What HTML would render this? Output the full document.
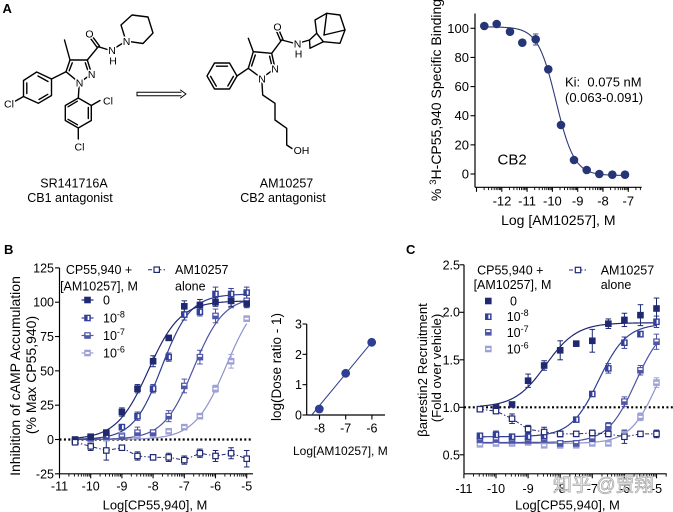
<!DOCTYPE html>
<html><head><meta charset="utf-8">
<style>
html,body{margin:0;padding:0;background:#fff;}
svg{display:block;font-family:"Liberation Sans",Arial,sans-serif;}
.at{font-size:10.5px;text-anchor:middle;fill:#000;paint-order:stroke;stroke:#fff;stroke-width:3px;stroke-linejoin:round;}
</style></head>
<body>
<svg id="s" width="673" height="512" viewBox="0 0 673 512" xmlns="http://www.w3.org/2000/svg">
<rect width="673" height="512" fill="#fff"/>

<!-- ============ PANEL A : structures ============ -->
<text x="2.5" y="13" font-size="13" font-weight="bold">A</text>
<g stroke="#000" stroke-width="1.4" fill="none" stroke-linecap="round" stroke-linejoin="round">
  <polygon points="70,60 87.3,60 91.7,74 79.3,82.7 66,71.7"/>
  <line x1="72.3" y1="62.8" x2="69.2" y2="70.8"/>
  <line x1="85.3" y1="62.8" x2="88.2" y2="71.5"/>
  <line x1="70" y1="60" x2="64.5" y2="40"/>
  <line x1="87.3" y1="60" x2="98.3" y2="46.7"/>
  <line x1="99.4" y1="45.9" x2="91.5" y2="35.2"/>
  <line x1="97.2" y1="47.5" x2="89.4" y2="36.8"/>
  <line x1="98.3" y1="46.7" x2="109" y2="50"/>
  <line x1="115" y1="48" x2="123" y2="43"/>
  <polygon points="126,41 121,25 132,15 148,17 153,33 143,43.5"/>
  <polygon points="36.7,72 51.5,79 51.5,95.5 38.3,103.3 23.5,96.5 23.5,80.5"/>
  <line x1="38" y1="76" x2="48" y2="81.5"/>
  <line x1="47.8" y1="94.3" x2="39" y2="99.5"/>
  <line x1="26.8" y1="93.5" x2="26.8" y2="83"/>
  <line x1="66" y1="71.7" x2="51.5" y2="79"/>
  <line x1="23.5" y1="96.5" x2="15.5" y2="101"/>
  <line x1="79.3" y1="82.7" x2="78.3" y2="98"/>
  <polygon points="78.3,98 91.3,105.5 91.3,120.5 78.3,128 65.3,120.5 65.3,105.5"/>
  <line x1="88.3" y1="107.5" x2="88.3" y2="118.5"/>
  <line x1="77.5" y1="124.8" x2="68" y2="119.3"/>
  <line x1="68" y1="106.8" x2="77.3" y2="101.2"/>
  <line x1="91.3" y1="105.5" x2="100" y2="100.5"/>
  <line x1="78.3" y1="128" x2="78.3" y2="139"/>
  <g stroke-width="1">
    <line x1="137" y1="92.3" x2="181" y2="92.3"/>
    <line x1="137" y1="95.7" x2="181" y2="95.7"/>
    <line x1="137" y1="92.3" x2="137" y2="95.7"/>
    <polyline points="180.5,90 186,94 180.5,98"/>
  </g>
  <polygon points="253.3,51.7 271.7,53.3 275,68.3 261.7,78.3 248.3,68.3"/>
  <line x1="255.3" y1="55" x2="251.6" y2="66"/>
  <line x1="269.6" y1="56.2" x2="272" y2="66.5"/>
  <line x1="253.3" y1="51.7" x2="248.3" y2="38.3"/>
  <line x1="271.7" y1="53.3" x2="281.7" y2="40"/>
  <line x1="283" y1="39.5" x2="278.6" y2="29.3"/>
  <line x1="280.5" y1="40.5" x2="276.1" y2="30.3"/>
  <line x1="281.7" y1="40" x2="293.3" y2="43"/>
  <polygon points="237,76 229.5,63 214.5,63 207,76 214.5,89 229.5,89"/>
  <line x1="227.5" y1="66.2" x2="216.5" y2="66.2"/>
  <line x1="210.6" y1="76.4" x2="216.3" y2="86.2"/>
  <line x1="227.8" y1="86" x2="233.4" y2="76.4"/>
  <line x1="248.3" y1="68.3" x2="237" y2="76"/>
  <polyline points="261.7,78.3 262.7,95 275,103.3 275,120 286.7,128.3 286.7,145 292,148.5"/>
  <line x1="302.5" y1="42" x2="309.5" y2="40"/>
  <polyline points="309.5,40 316.7,33.3 315,20 326.7,13.3 340,15 345,30 340,43.3 323.3,41.7 310,48.3 309.5,40"/>
  <line x1="316.7" y1="33.3" x2="323.3" y2="41.7"/>
  <line x1="326.7" y1="13.3" x2="324" y2="35"/>
  <line x1="324" y1="35" x2="345" y2="30"/>
</g>
<text class="at" x="91.7" y="78">N</text>
<text class="at" x="79.5" y="86.6">N</text>
<text class="at" x="89.5" y="37.5">O</text>
<text class="at" x="112" y="54">N</text>
<text class="at" x="113" y="64.5">H</text>
<text class="at" x="126.5" y="45">N</text>
<text class="at" x="9" y="107.5">Cl</text>
<text class="at" x="108" y="104.5">Cl</text>
<text class="at" x="79.5" y="150.5">Cl</text>
<text class="at" x="275" y="72.3">N</text>
<text class="at" x="262" y="82.3">N</text>
<text class="at" x="277.5" y="30.5">O</text>
<text class="at" x="297.5" y="47.5">N</text>
<text class="at" x="298.5" y="57.5">H</text>
<text class="at" x="301.5" y="154">OH</text>

<g font-size="12.5" text-anchor="middle">
<text x="74" y="187.5">SR141716A</text>
<text x="70" y="202">CB1 antagonist</text>
<text x="286.5" y="187.5">AM10257</text>
<text x="283" y="202">CB2 antagonist</text>
</g>

<!-- ============ PANEL A : binding curve text ============ -->
<text transform="translate(441,100) rotate(-90)" font-size="14" text-anchor="middle">% <tspan dy="-5" font-size="9.5">3</tspan><tspan dy="5">H-CP55,940 Specific Binding</tspan></text>
<g font-size="13" text-anchor="end">
<text x="469" y="32.8">100</text>
<text x="469" y="61.9">80</text>
<text x="469" y="91.1">60</text>
<text x="469" y="120.2">40</text>
<text x="469" y="149.4">20</text>
<text x="469" y="178.5">0</text>
</g>
<g font-size="13" text-anchor="middle">
<text x="502" y="205.5">-12</text>
<text x="527.1" y="205.5">-11</text>
<text x="552.4" y="205.5">-10</text>
<text x="577.7" y="205.5">-9</text>
<text x="603" y="205.5">-8</text>
<text x="628.3" y="205.5">-7</text>
</g>
<text x="558.3" y="225" font-size="14" text-anchor="middle">Log [AM10257], M</text>
<text x="565" y="86.3" font-size="13" xml:space="preserve">Ki:  0.075 nM</text>
<text x="565" y="101.8" font-size="13">(0.063-0.091)</text>
<text x="497.5" y="164.5" font-size="15">CB2</text>

<!-- ============ PANEL B text ============ -->
<text x="4" y="254" font-size="13" font-weight="bold">B</text>
<text transform="translate(20,376) rotate(-90)" font-size="14" text-anchor="middle">Inhibition of cAMP Accumulation</text>
<text transform="translate(36,375) rotate(-90)" font-size="14" text-anchor="middle">(% Max CP55,940)</text>
<g font-size="12.5" text-anchor="end">
<text x="54" y="272.4">125</text>
<text x="54" y="306.7">100</text>
<text x="54" y="341">75</text>
<text x="54" y="375.4">50</text>
<text x="54" y="409.7">25</text>
<text x="54" y="444">0</text>
<text x="54" y="478.3">-25</text>
</g>
<g font-size="12.5" text-anchor="middle">
<text x="59.5" y="490.5">-11</text>
<text x="90.7" y="490.5">-10</text>
<text x="121.9" y="490.5">-9</text>
<text x="153.1" y="490.5">-8</text>
<text x="184.3" y="490.5">-7</text>
<text x="215.5" y="490.5">-6</text>
<text x="246.7" y="490.5">-5</text>
</g>
<text x="155" y="509.5" font-size="13" text-anchor="middle">Log[CP55,940], M</text>
<g font-size="12.5">
<text x="99" y="274" text-anchor="middle">CP55,940 +</text>
<text x="99" y="290.5" text-anchor="middle">[AM10257], M</text>
<text x="175" y="274">AM10257</text>
<text x="175" y="290.5">alone</text>
<text x="103" y="304.5">0</text>
<text x="103" y="322.5">10<tspan dy="-5" font-size="9">-8</tspan></text>
<text x="103" y="340">10<tspan dy="-5" font-size="9">-7</tspan></text>
<text x="103" y="357.5">10<tspan dy="-5" font-size="9">-6</tspan></text>
</g>

<!-- inset -->
<text transform="translate(281,367) rotate(-90)" font-size="13.5" text-anchor="middle">log(Dose ratio - 1)</text>
<g font-size="12.5" text-anchor="end">
<text x="302" y="328.5">3</text>
<text x="302" y="358.8">2</text>
<text x="302" y="389.2">1</text>
<text x="302" y="419.5">0</text>
</g>
<g font-size="12.5" text-anchor="middle">
<text x="319.5" y="432.5">-8</text>
<text x="345.7" y="432.5">-7</text>
<text x="371.9" y="432.5">-6</text>
</g>
<text x="293" y="455" font-size="12">Log[AM10257], M</text>

<!-- ============ PANEL C text ============ -->
<text x="406" y="254" font-size="13" font-weight="bold">C</text>
<text transform="translate(427,370) rotate(-90)" font-size="13.2" text-anchor="middle">βarrestin2 Recruitment</text>
<text transform="translate(441,368) rotate(-90)" font-size="13.2" text-anchor="middle">(Fold over vehicle)</text>
<g font-size="12.5" text-anchor="end">
<text x="460" y="269.3">2.5</text>
<text x="460" y="316.3">2.0</text>
<text x="460" y="364.3">1.5</text>
<text x="460" y="411.8">1.0</text>
<text x="460" y="459.3">0.5</text>
</g>
<g font-size="12.5" text-anchor="middle">
<text x="463.9" y="492.8">-11</text>
<text x="496" y="492.8">-10</text>
<text x="528.1" y="492.8">-9</text>
<text x="560.2" y="492.8">-8</text>
<text x="592.3" y="492.8">-7</text>
<text x="624.4" y="492.8">-6</text>
<text x="656.5" y="492.8">-5</text>
</g>
<text x="567.5" y="509.5" font-size="13" text-anchor="middle">Log[CP55,940], M</text>
<g font-size="12.5">
<text x="510.3" y="274.5" text-anchor="middle">CP55,940 +</text>
<text x="512.5" y="288.8" text-anchor="middle">[AM10257], M</text>
<text x="600.7" y="274.5">AM10257</text>
<text x="600.7" y="288.8">alone</text>
<text x="510" y="305.5">0</text>
<text x="506.7" y="321.2">10<tspan dy="-5" font-size="9">-8</tspan></text>
<text x="506.7" y="336.8">10<tspan dy="-5" font-size="9">-7</tspan></text>
<text x="506.7" y="353.5">10<tspan dy="-5" font-size="9">-6</tspan></text>
</g>

<g id="dyn"></g>

<text x="553" y="491" font-size="19" fill="#f2f2f2" stroke="#9c9c9c" stroke-width="0.7" opacity="0.9" font-family="'Liberation Sans','Noto Sans CJK SC',sans-serif">知乎 @贾翔</text>
</svg>

<script>
(function(){
const NS='http://www.w3.org/2000/svg', G=document.getElementById('dyn');
function mk(t,a){const e=document.createElementNS(NS,t);for(const k in a)e.setAttribute(k,a[k]);G.appendChild(e);return e;}
function L(x1,y1,x2,y2,c,w,da){const a={x1:x1,y1:y1,x2:x2,y2:y2,stroke:c,'stroke-width':w||1.2};if(da)a['stroke-dasharray']=da;return mk('line',a);}
function hill(b,t,ec,h){return function(v){return b+(t-b)/(1+Math.pow(10,(ec-v)*h));};}
function curve(f,X,Y,v0,v1,c,w){let d='';for(let i=0;i<=150;i++){const v=v0+(v1-v0)*i/150;d+=(i?'L':'M')+X(v).toFixed(2)+' '+Y(f(v)).toFixed(2);}mk('path',{d:d,fill:'none',stroke:c,'stroke-width':w||1.2});}
function marker(x,y,type,c,s){s=s||6.6;const h=s/2;
  if(type==='o'){mk('rect',{x:x-h+0.6,y:y-h+0.6,width:s-1.2,height:s-1.2,fill:'#fff',stroke:c,'stroke-width':1.2});return;}
  mk('rect',{x:x-h,y:y-h,width:s,height:s,fill:c});
  if(type==='v')mk('rect',{x:x+0.1,y:y-h+1.3,width:1.7,height:s-2.6,fill:'#fff'});
  if(type==='h')mk('rect',{x:x-h+1.3,y:y-h+1.2,width:s-2.6,height:1.8,fill:'#fff'});
  if(type==='m')mk('rect',{x:x-h+1.3,y:y-0.9,width:s-2.6,height:1.8,fill:'#fff'});
}
function ebar(x,y1,y2,c){L(x,y1,x,y2,c,1);L(x-2.8,y1,x+2.8,y1,c,1);L(x-2.8,y2,x+2.8,y2,c,1);}
function logAxis(X,y,v0,v1){
  for(let d=Math.floor(v0)-1;d<=Math.ceil(v1);d++){
    if(d>=v0-1e-6&&d<=v1+1e-6)L(X(d),y,X(d),y+4.5,'#000',1.1);
    for(let k=2;k<=9;k++){const v=d+Math.log10(k);if(v>v0+0.02&&v<v1)L(X(v),y,X(v),y+2.8,'#000',0.9);}
  }
}
const C0='#1f2870',C8='#33419a',C7='#4f56a8',C6='#9da1d6',CA='#263575';

(function(){
  const X=v=>628.3+(v+7)*25.3, Y=v=>174-v*1.457;
  L(475,13.5,475,187.3,'#000',1.2);
  L(475,187.3,641.7,187.3,'#000',1.2);
  for(let v=0;v<=100;v+=20)L(470.5,Y(v),475,Y(v),'#000',1.1);
  logAxis(X,187.3,-13.06,-6.47);
  const vc=-7+(556-628.3)/25.3;
  curve(v=>-1+102/(1+Math.pow(10,1.2*(v-vc))),X,Y,-12.72,-7.1,'#2b3a78',1.1);
  const xs=[484.3,496.7,510,522.3,535.7,548.3,561,574,586.7,599.3,612.3,625];
  const ys=[26,24,31.7,42.7,39.3,69.3,125,160,170,174,174.7,174.7];
  ebar(535.7,34,45,'#4a5580');
  for(let i=0;i<xs.length;i++)mk('circle',{cx:xs[i],cy:ys[i],r:4.3,fill:CA});
})();

(function(){
  const X=v=>59.5+(v+11)*31.2, Y=v=>439.5-v*1.373;
  L(59.5,267.9,59.5,473.8,'#000',1.2);
  L(59.5,473.8,253,473.8,'#000',1.2);
  for(let v=-25;v<=125;v+=25)L(55,Y(v),59.5,Y(v),'#000',1.1);
  logAxis(X,473.8,-11,-4.8);
  L(59.5,439.5,253,439.5,'#000',2.2,'2 2.4');
  const vs=[];for(let v=-10.5;v<=-4.99;v+=0.5)vs.push(v);
  const S=[
    {d:[-2,0,1,3,3,4,6,9,17,37,57,88],e:[1,1,1,1,1,1,1,1.5,2,2.5,5,2],c:C6,t:'m',f:hill(0,108,-5.65,0.85),lc:'#8e93cc'},
    {d:[-1,1,2,2,5,5,17,39,60,90,101,101],e:[1,1,1,1,4,2,4,5,5,5,5,4],c:C7,t:'h',f:hill(0,104,-6.7,0.9),lc:'#4d53a3'},
    {d:[-1,2,3,9,17,37,60,91,93,106,106,107],e:[1,2,2,2,3,3,3,4,3,5,4,4],c:C8,t:'v',f:hill(0,106,-7.72,0.95),lc:'#2e3d93'},
    {d:[0,2,5,20,37,57,74,97,98,100,101,99],e:[1,1,2,3,3,4,1,4,4,3,4,3],c:C0,t:'f',f:hill(0,101,-8.15,0.85),lc:'#1f2870'}
  ];
  S.forEach(s=>curve(s.f,X,Y,-10.5,-5,s.lc,1.2));
  const ad=[-2,-5,-8,-6,-12,-13,-13,-15,-10,-12,-10,-14], ae=[1,3,7,2,3,2,3,3,3,4,4,6];
  let pd='';vs.forEach((v,i)=>{pd+=(i?'L':'M')+X(v)+' '+Y(ad[i]);});
  mk('path',{d:pd,fill:'none',stroke:C0,'stroke-width':1,'stroke-dasharray':'4 2 1.5 2'});
  S.forEach(s=>{vs.forEach((v,i)=>{ebar(X(v),Y(s.d[i]+s.e[i]),Y(s.d[i]-s.e[i]),s.c);});});
  vs.forEach((v,i)=>ebar(X(v),Y(ad[i]+ae[i]),Y(ad[i]-ae[i]),C0));
  S.forEach(s=>{vs.forEach((v,i)=>marker(X(v),Y(s.d[i]),s.t,s.c));});
  vs.forEach((v,i)=>marker(X(v),Y(ad[i]),'o',C0));
  const rows=[[300,C0,'f'],[318,C8,'v'],[335.5,C7,'h'],[353,C6,'m']];
  rows.forEach(r=>{L(81.5,r[0],93.5,r[0],r[1],1.2);marker(87.5,r[0],r[2],r[1]);});
  L(148,269.7,166,269.7,C0,1,'4 2 1.5 2');marker(156.7,269.7,'o',C0);
})();

(function(){
  const X=v=>345.7+(v+7)*26.2, Y=v=>415-v*30.33;
  L(306.7,324,306.7,415,'#000',1.2);
  L(306.7,415,385,415,'#000',1.2);
  for(let v=0;v<=3;v++)L(302.5,Y(v),306.7,Y(v),'#000',1.1);
  for(let v=-8;v<=-6;v++)L(X(v),415,X(v),419.5,'#000',1.1);
  L(311.7,415,371.7,342.3,'#2d3c8c',1);
  [[319.3,409],[345.7,373.3],[371.7,342.3]].forEach(p=>mk('circle',{cx:p[0],cy:p[1],r:4.4,fill:'#2f3d92'}));
})();

(function(){
  const X=v=>496+(v+10)*32.1, Y=v=>407.3-(v-1)*95;
  L(464,264.8,464,473.8,'#000',1.2);
  L(464,473.8,666.7,473.8,'#000',1.2);
  for(let v=0.5;v<=2.51;v+=0.5)L(459.5,Y(v),464,Y(v),'#000',1.1);
  logAxis(X,473.8,-11,-4.68);
  L(464,407.3,673,407.3,'#000',2.2,'2 2.4');
  const vs=[];for(let v=-10.5;v<=-4.99;v+=0.5)vs.push(v);
  const S=[
    {d:[0.61,0.62,0.62,0.63,0.60,0.60,0.60,0.62,0.62,0.72,0.90,1.26],e:[.02,.03,.02,.02,.02,.03,.02,.02,.02,.03,.04,.05],c:C6,t:'m',f:hill(0.62,1.9,-4.95,1.0),lc:'#8e93cc'},
    {d:[0.66,0.66,0.65,0.65,0.66,0.62,0.62,0.67,0.80,1.06,1.39,1.69],e:[.03,.03,.03,.03,.03,.03,.03,.03,.04,.05,.05,.08],c:C7,t:'h',f:hill(0.63,1.9,-5.65,1.0),lc:'#4d53a3'},
    {d:[0.70,0.71,0.69,0.69,0.70,0.72,0.87,1.14,1.41,1.68,1.77,1.90],e:[.03,.04,.03,.03,.03,.02,.02,.02,.05,.06,.03,.06],c:C8,t:'v',f:hill(0.69,1.88,-6.8,1.0),lc:'#2e3d93'},
    {d:[0.98,1.0,1.03,1.28,1.44,1.60,1.67,1.70,1.88,1.92,1.97,2.04],e:[.02,.02,.02,.07,.05,.1,.02,.12,.05,.07,.11,.11],c:C0,t:'f',f:hill(1.0,1.89,-8.45,0.9),lc:'#1f2870'}
  ];
  S.forEach(s=>curve(s.f,X,Y,-10.5,-5,s.lc,1.2));
  const ad=[0.98,0.96,0.88,0.77,0.74,0.72,0.72,0.73,0.72,0.69,0.72,0.72], ae=[.02,.02,.05,.04,.05,.03,.02,.03,.03,.07,.02,.04];
  let pd='';vs.forEach((v,i)=>{pd+=(i?'L':'M')+X(v)+' '+Y(ad[i]);});
  mk('path',{d:pd,fill:'none',stroke:C0,'stroke-width':1,'stroke-dasharray':'4 2 1.5 2'});
  S.forEach(s=>{vs.forEach((v,i)=>{ebar(X(v),Y(s.d[i]+s.e[i]),Y(s.d[i]-s.e[i]),s.c);});});
  vs.forEach((v,i)=>ebar(X(v),Y(ad[i]+ae[i]),Y(ad[i]-ae[i]),C0));
  S.forEach(s=>{vs.forEach((v,i)=>marker(X(v),Y(s.d[i]),s.t,s.c));});
  vs.forEach((v,i)=>marker(X(v),Y(ad[i]),'o',C0));
  const rows=[[301,C0,'f'],[316.7,C8,'v'],[332.3,C7,'h'],[349,C6,'m']];
  rows.forEach(r=>marker(488.3,r[0],r[2],r[1]));
  L(569,270,587,270,C0,1,'4 2 1.5 2');marker(578,270,'o',C0);
})();
})();
</script>
</body></html>
